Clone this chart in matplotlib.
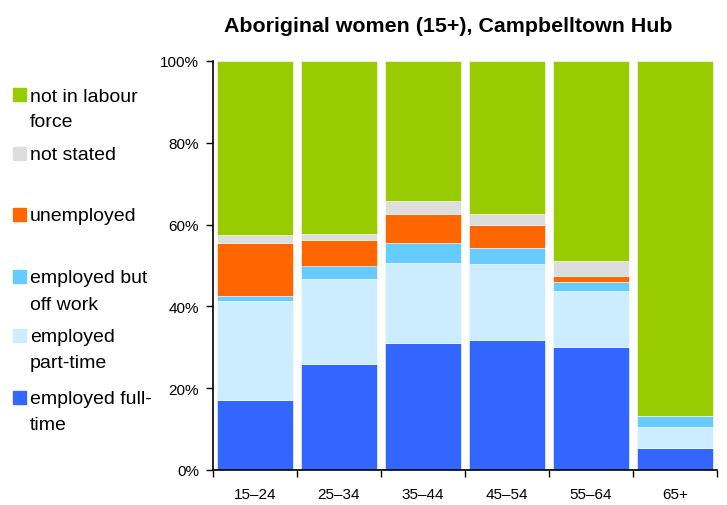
import matplotlib
matplotlib.use("Agg")
import matplotlib.pyplot as plt
from matplotlib.patches import Rectangle
import numpy as np

plt.rcParams['font.family'] = ['Liberation Sans', 'DejaVu Sans']

categories = ["15–24", "25–34", "35–44", "45–54", "55–64", "65+"]
full_time = [17.1, 25.8, 31.1, 31.7, 30.1, 5.3]
part_time = [24.1, 21.0, 19.6, 18.6, 13.6, 5.2]
off_work = [1.4, 3.2, 4.7, 3.9, 2.2, 2.7]
unemployed = [13.0, 6.2, 7.1, 5.8, 1.6, 0.0]
not_stated = [1.9, 1.4, 3.2, 2.5, 3.6, 0.0]
not_in_lf = [42.5, 42.4, 34.3, 37.5, 48.9, 86.8]

series = [
    ("employed full-time", ["employed full-", "time"], full_time, "#3366FF"),
    ("employed part-time", ["employed", "part-time"], part_time, "#CCECFF"),
    ("employed but off work", ["employed but", "off work"], off_work, "#66CCFF"),
    ("unemployed", ["unemployed"], unemployed, "#FF6600"),
    ("not stated", ["not stated"], not_stated, "#DDDDDD"),
    ("not in labour force", ["not in labour", "force"], not_in_lf, "#99CC00"),
]
title = "Aboriginal women (15+), Campbelltown Hub"

W, H = 727, 506
fig = plt.figure(figsize=(W / 100, H / 100), dpi=100)
ax = fig.add_axes([213 / W, 1 - 471 / H, (717 - 213) / W, (471 - 62) / H])

x = np.arange(len(categories))
bottom = np.zeros(len(categories))
for name, lines, vals, col in series:
    v = np.array(vals)
    ax.bar(x, v, bottom=bottom, width=0.91, color=col, edgecolor="white",
           linewidth=0.4, label=name)
    bottom += v

ax.set_xlim(-0.5, len(categories) - 0.5)
ax.set_ylim(0, 100)
ax.set_yticks(np.arange(0, 101, 20))
ax.set_yticklabels([f"{t}%" for t in range(0, 101, 20)], fontsize=11)
ax.set_xticks(x)
ax.set_xticklabels(categories, fontsize=11)
ax.tick_params(axis="x", which="major", length=0, pad=12)
ax.set_xticks(np.arange(-0.5, len(categories), 1), minor=True)
ax.tick_params(axis="x", which="minor", length=5, width=1, direction="out")
ax.tick_params(axis="y", length=5, width=1, direction="out", pad=5)
for s in ["top", "right"]:
    ax.spines[s].set_visible(False)
for s in ["left", "bottom"]:
    ax.spines[s].set_linewidth(1.2)
    ax.spines[s].set_color("black")

fig.text(448 / W, 1 - 32 / H, title, ha="center", va="baseline",
         fontsize=15.4, fontweight="bold")

# legend (manual placement to match reference)
first_centers = {"not in labour force": 95, "not stated": 154, "unemployed": 215,
                 "employed but off work": 277, "employed part-time": 336,
                 "employed full-time": 398}
step = 26
for name, lines, vals, col in series:
    cy = first_centers[name]
    fig.patches.append(Rectangle((13 / W, 1 - (cy + 6.5) / H), 13 / W, 13 / H,
                                 transform=fig.transFigure, color=col))
    for i, ln in enumerate(lines):
        fig.text(30 / W, 1 - (cy + i * step) / H, ln, ha="left",
                 va="center_baseline", fontsize=14)

fig.savefig("out.png", dpi=100)
